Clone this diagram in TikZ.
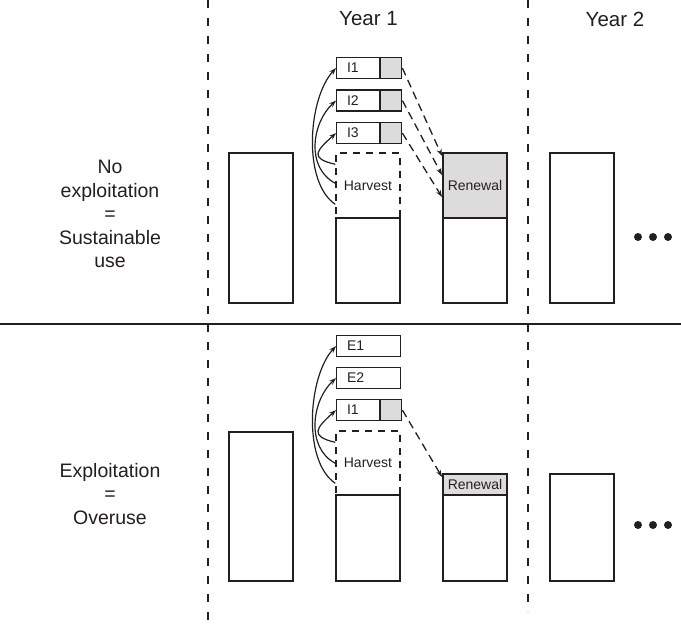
\documentclass[tikz,border=0pt]{standalone}
\usepackage{fontspec}
\setmainfont{Liberation Sans}
\usetikzlibrary{arrows.meta,calc}
\definecolor{ink}{HTML}{231F20}
\definecolor{shade}{HTML}{DCDCDC}
\begin{document}
\begin{tikzpicture}[x=1pt,y=-1pt,
  every node/.style={text=ink},
  sep/.style={draw=ink,line width=1.3pt,dash pattern=on 8pt off 10pt},
  divider/.style={draw=ink,line width=1.4pt},
  bigbox/.style={draw=ink,line width=2pt,minimum width=64pt,inner sep=0pt,font=\fontsize{14}{16}\selectfont},
  harvestbox/.style={draw=ink,line width=1.4pt,dash pattern=on 7pt off 6pt,minimum width=64pt,inner sep=0pt,font=\fontsize{14}{16}\selectfont},
  tagbox/.style={draw=ink,line width=1.2pt,minimum height=21pt,inner ysep=0pt,inner xsep=10.5pt,align=left,font=\fontsize{14}{16}\selectfont},
  graytag/.style={draw=ink,line width=1.2pt,fill=shade,minimum height=21pt,minimum width=21pt,inner sep=0pt},
  sidetext/.style={align=center,font=\fontsize{19.5}{23.5}\selectfont},
  yeartext/.style={font=\fontsize{20.5}{24}\selectfont},
  dot/.style={circle,fill=ink,minimum size=8pt,inner sep=0pt},
  arr/.style={draw=ink,line width=1.2pt,-{Stealth[length=7pt,width=5pt]}},
  darr/.style={draw=ink,line width=1.3pt,dash pattern=on 8pt off 5pt,-{Stealth[length=7pt,width=5pt]}}
]
\useasboundingbox (0,0) rectangle (681,626);
% separators
\coordinate (s1t) at (208,0);
\coordinate (s1b) at (208,624);
\coordinate (s2t) at (528,0);
\coordinate (s2b) at (528,612);
\coordinate (hl) at (0,324);
\coordinate (hr) at (681,324);
\draw[sep] (s1t) -- (s1b);
\draw[sep] (s2t) -- (s2b);
\draw[divider] (hl) -- (hr);
% headers
\node[yeartext] (year1) at (368.5,19) {Year 1};
\node[yeartext] (year2) at (615,19) {Year 2};
% side labels
\node[sidetext] (lab1) at (110,214) {No\\exploitation\\=\\Sustainable\\use};
\node[sidetext] (lab2) at (110,494) {Exploitation\\=\\Overuse};
% ---------- top row ----------
\node[bigbox,minimum height=150pt] (L1) at (261,228) {};
\node[harvestbox,minimum height=65pt] (H1) at (368,185.5) {Harvest};
\node[bigbox,minimum height=85pt] (B1) at (368,260.5) {};
\node[bigbox,fill=shade,minimum height=65pt] (R1) at (475,185.5) {Renewal};
\node[bigbox,minimum height=85pt] (S1) at (475,260.5) {};
\node[bigbox,minimum height=150pt] (Y1) at (582,228) {};
\node[tagbox,text width=22pt,anchor=north west] (T1) at (336,57) {I1};
\node[graytag,anchor=west] (T1g) at (T1.east) {};
\node[tagbox,text width=22pt,anchor=north west] (T2) at (336,89.5) {I2};
\node[graytag,anchor=west] (T2g) at (T2.east) {};
\node[tagbox,text width=22pt,anchor=north west] (T3) at (336,122) {I3};
\node[graytag,anchor=west] (T3g) at (T3.east) {};
\node[dot] (d1) at (638,237) {};
\node[dot] (d2) at (653,237) {};
\node[dot] (d3) at (668,237) {};
% curved arrows (top)
\draw[arr] ([yshift=-52pt]H1.north west) .. controls +(-33,-22) and +(-28,30) .. (T1.west);
\draw[arr] ([yshift=-31pt]H1.north west) .. controls +(-30,-16) and +(-24,22) .. (T2.west);
\draw[arr] ([yshift=-12pt]H1.north west) .. controls +(-26,-6) and +(-20,18) .. (T3.west);
% dashed arrows (top)
\draw[darr] (T1g.east) -- ([yshift=-4pt]R1.north west);
\draw[darr] (T2g.east) -- ([yshift=-23pt]R1.north west);
\draw[darr] (T3g.east) -- ([yshift=-45pt]R1.north west);
% ---------- bottom row ----------
\node[bigbox,minimum height=149pt] (L2) at (261,506.5) {};
\node[harvestbox,minimum height=64pt] (H2) at (368,463) {Harvest};
\node[bigbox,minimum height=86pt] (B2) at (368,538) {};
\node[bigbox,fill=shade,minimum height=21pt] (R2) at (475,484.5) {Renewal};
\node[bigbox,minimum height=86pt] (S2) at (475,538) {};
\node[bigbox,minimum height=107pt] (Y2) at (582,527.5) {};
\node[tagbox,text width=43pt,anchor=north west] (E1) at (336,335) {E1};
\node[tagbox,text width=43pt,anchor=north west] (E2) at (336,367) {E2};
\node[tagbox,text width=22pt,anchor=north west] (U1) at (336,399) {I1};
\node[graytag,anchor=west] (U1g) at (U1.east) {};
\node[dot] (e1) at (638,525) {};
\node[dot] (e2) at (653,525) {};
\node[dot] (e3) at (668,525) {};
% curved arrows (bottom)
\draw[arr] ([yshift=-53pt]H2.north west) .. controls +(-33,-22) and +(-28,30) .. (E1.west);
\draw[arr] ([yshift=-33pt]H2.north west) .. controls +(-30,-16) and +(-24,22) .. (E2.west);
\draw[arr] ([yshift=-12pt]H2.north west) .. controls +(-26,-6) and +(-20,18) .. (U1.west);
% dashed arrow (bottom)
\draw[darr] (U1g.east) -- ([yshift=-4pt]R2.north west);
\end{tikzpicture}
\end{document}
